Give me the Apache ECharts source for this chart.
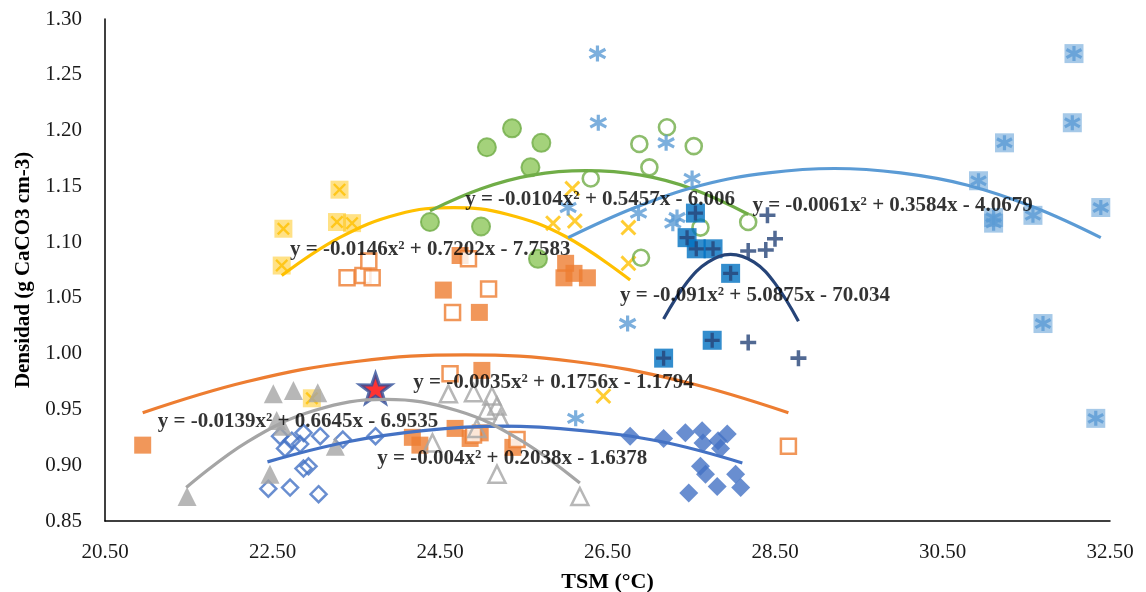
<!DOCTYPE html>
<html>
<head>
<meta charset="utf-8">
<script src="https://cdn.jsdelivr.net/npm/echarts@6/dist/echarts.min.js"></script>
<style>
html,body{margin:0;padding:0;background:#fff;}
#chart{width:1146px;height:592px;}
</style>
</head>
<body>
<div id="chart"></div>
<script>
// ---------- DATA ----------
const xTicks = [20.5, 22.5, 24.5, 26.5, 28.5, 30.5, 32.5];
const yTicks = [0.85, 0.90, 0.95, 1.00, 1.05, 1.10, 1.15, 1.20, 1.25, 1.30];

const orangeFilledX = [20.95, 24.54, 24.97, 24.74, 26.00, 25.98, 26.26, 26.10, 25.00, 24.17, 24.26, 24.68, 24.86, 24.98, 25.37];
const orangeFilledY = [0.918, 1.057, 1.037, 1.088, 1.081, 1.068, 1.068, 1.072, 0.985, 0.925, 0.918, 0.933, 0.924, 0.929, 0.916];

const orangeHollowX = [23.39, 23.58, 23.69, 23.65, 24.84, 25.08, 24.65, 24.62, 25.42, 24.90, 28.66];
const orangeHollowY = [1.068, 1.070, 1.068, 1.083, 1.085, 1.058, 1.037, 0.982, 0.923, 0.927, 0.917];

const yellowBoxX = [22.63, 22.61, 23.30, 23.27, 23.45, 22.97];
const yellowBoxY = [1.112, 1.079, 1.147, 1.118, 1.117, 0.960];

const yellowCrossX = [26.08, 25.85, 26.11, 26.75, 26.75, 26.45];
const yellowCrossY = [1.148, 1.117, 1.119, 1.113, 1.081, 0.962];

const greenFilledX = [25.36, 25.06, 25.71, 25.58, 24.38, 24.99, 25.67];
const greenFilledY = [1.202, 1.185, 1.189, 1.167, 1.118, 1.114, 1.085];

const greenHollowX = [27.21, 26.88, 27.53, 27.00, 26.30, 28.18, 26.90, 27.61];
const greenHollowY = [1.203, 1.188, 1.186, 1.167, 1.157, 1.118, 1.086, 1.113];

const starLightX = [26.38, 26.39, 27.20, 27.51, 26.03, 26.87, 27.33, 27.28, 26.74, 26.12];
const starLightY = [1.269, 1.207, 1.189, 1.157, 1.131, 1.126, 1.122, 1.117, 1.027, 0.942];

const starBoxX = [32.07, 32.05, 31.24, 30.93, 31.11, 31.11, 31.58, 32.39, 31.70, 32.33];
const starBoxY = [1.269, 1.207, 1.189, 1.155, 1.122, 1.117, 1.124, 1.131, 1.027, 0.942];

const plusX = [28.41, 28.50, 28.18, 28.39, 28.18, 28.78];
const plusY = [1.124, 1.103, 1.092, 1.093, 1.010, 0.996];

const plusBoxX = [27.55, 27.45, 27.56, 27.76, 27.97, 27.75, 27.17];
const plusBoxY = [1.126, 1.104, 1.094, 1.094, 1.072, 1.012, 0.996];

const diamondFilledX = [26.77, 27.17, 27.43, 27.63, 27.64, 27.82, 27.93, 27.85, 27.61, 27.67, 28.03, 27.81, 28.09, 27.47];
const diamondFilledY = [0.926, 0.924, 0.929, 0.931, 0.920, 0.922, 0.928, 0.915, 0.899, 0.892, 0.892, 0.881, 0.880, 0.875];

const diamondHollowX = [22.59, 22.73, 22.87, 23.07, 23.34, 22.65, 22.83, 22.45, 22.71, 22.87, 22.93, 23.05, 23.73];
const diamondHollowY = [0.926, 0.922, 0.929, 0.926, 0.923, 0.915, 0.919, 0.879, 0.880, 0.897, 0.899, 0.874, 0.926];

const triFilledX = [22.51, 22.75, 23.04, 22.62, 22.55, 23.25, 22.47, 21.48];
const triFilledY = [0.964, 0.967, 0.965, 0.935, 0.940, 0.917, 0.892, 0.872];

const triHollowX = [24.60, 24.90, 25.12, 25.06, 25.18, 25.22, 24.41, 25.18, 26.17, 24.94];
const triHollowY = [0.964, 0.965, 0.962, 0.949, 0.953, 0.942, 0.920, 0.892, 0.872, 0.933];

const redStarX = [23.73];
const redStarY = [0.969];

// trend lines
const trendOrangeX = [20.95, 22.2, 23.5, 24.8, 26.1, 27.4, 28.66];
const trendOrangeY = [0.947, 0.975, 0.993, 0.999, 0.993, 0.975, 0.947];
const trendYellowX = [22.61, 23.3, 24.0, 24.66, 25.3, 26.0, 26.77];
const trendYellowY = [1.070, 1.104, 1.125, 1.131, 1.125, 1.105, 1.066];
const trendGreenX = [24.38, 25.0, 25.6, 26.24, 26.9, 27.5, 28.18];
const trendGreenY = [1.128, 1.148, 1.160, 1.164, 1.160, 1.148, 1.125];
const trendLightX = [26.03, 26.83, 27.62, 28.42, 29.21, 30.0, 30.8, 31.6, 32.39];
const trendLightY = [1.104, 1.131, 1.151, 1.162, 1.166, 1.162, 1.151, 1.131, 1.104];
const trendNavyX = [27.17, 27.45, 27.7, 27.97, 28.25, 28.5, 28.78];
const trendNavyY = [1.031, 1.064, 1.082, 1.089, 1.082, 1.063, 1.029];
const trendBlueX = [22.44, 23.4, 24.3, 25.25, 26.2, 27.15, 28.11];
const trendBlueY = [0.903, 0.921, 0.931, 0.935, 0.931, 0.921, 0.902];
const trendGrayX = [21.47, 22.2, 23.0, 23.85, 24.7, 25.45, 26.17];
const trendGrayY = [0.880, 0.921, 0.949, 0.959, 0.949, 0.923, 0.884];

const eqTexts = [
  'y = -0.0146x² + 0.7202x - 7.7583',
  'y = -0.0104x² + 0.5457x - 6.006',
  'y = -0.0061x² + 0.3584x - 4.0679',
  'y = -0.091x² + 5.0875x - 70.034',
  'y = -0.0035x² + 0.1756x - 1.1794',
  'y = -0.0139x² + 0.6645x - 6.9535',
  'y = -0.004x² + 0.2038x - 1.6378'
];
const eqAnchorX = [22.71, 24.80, 28.23, 26.65, 24.18, 21.13, 23.75];
const eqAnchorY = [1.093, 1.138, 1.133, 1.052, 0.974, 0.939, 0.906];

const xTitle = 'TSM (°C)';
const yTitle = 'Densidad (g CaCO3 cm-3)';

// ---------- BUILD ----------
const pts = (xs, ys) => xs.map((x, i) => [x, ys[i]]);
const SERIF = '"Liberation Serif", "Times New Roman", serif';

const CROSS = 'path://M0,1.3L1.3,0L5,3.7L8.7,0L10,1.3L6.3,5L10,8.7L8.7,10L5,6.3L1.3,10L0,8.7L3.7,5Z';
const PLUS = 'path://M3.9,0H6.1V3.9H10V6.1H6.1V10H3.9V6.1H0V3.9H3.9Z';
const ASTER = 'path://M5,0L5,10M0.6,2.3L9.4,7.7M0.6,7.7L9.4,2.3';
const STAR = 'path://M50,0L61.8,35.1L97.6,34.5L69.1,56.7L79.4,90.5L50,70L20.6,90.5L30.9,56.7L2.4,34.5L38.2,35.1Z';

function sc(data, symbol, size, itemStyle, z) {
  return { type: 'scatter', data, symbol, symbolSize: size, itemStyle, z: z || 2, silent: true, emphasis: { disabled: true } };
}
function trend(xs, ys, color, width) {
  return { type: 'line', data: pts(xs, ys), smooth: 0.4, showSymbol: false, symbol: 'none',
    lineStyle: { color, width: width || 3.2 }, z: 5, silent: true };
}

const series = [
  sc(pts(orangeFilledX, orangeFilledY), 'rect', 17, { color: '#ED7D31' }),
  sc(pts(orangeHollowX, orangeHollowY), 'rect', 15, { color: '#ffffff', borderColor: '#ED7D31', borderWidth: 2.5 }),
  sc(pts(yellowBoxX, yellowBoxY), 'rect', 18, { color: 'rgba(255,192,0,0.6)' }),
  sc(pts(yellowBoxX, yellowBoxY), CROSS, 13, { color: '#FFC000' }),
  sc(pts(yellowCrossX, yellowCrossY), CROSS, 16, { color: '#FFC000' }),
  sc(pts(greenFilledX, greenFilledY), 'circle', 18, { color: '#8DC75A', borderColor: '#70AD47', borderWidth: 2 }),
  sc(pts(greenHollowX, greenHollowY), 'circle', 16, { color: 'rgba(255,255,255,0)', borderColor: '#70AD47', borderWidth: 2.6 }),
  sc(pts(starLightX, starLightY), ASTER, 16, { color: 'rgba(0,0,0,0)', borderColor: '#5B9BD5', borderWidth: 3.2 }),
  sc(pts(starBoxX, starBoxY), 'rect', 19, { color: 'rgba(91,155,213,0.68)' }),
  sc(pts(starBoxX, starBoxY), ASTER, 15, { color: 'rgba(0,0,0,0)', borderColor: '#5B9BD5', borderWidth: 3.2 }),
  sc(pts(plusX, plusY), PLUS, 16, { color: '#264478' }),
  sc(pts(plusBoxX, plusBoxY), 'rect', 19, { color: '#0070C0' }),
  sc(pts(plusBoxX, plusBoxY), PLUS, 15, { color: '#264478' }),
  sc(pts(diamondFilledX, diamondFilledY), 'diamond', 19, { color: '#4472C4' }),
  sc(pts(diamondHollowX, diamondHollowY), 'diamond', 16, { color: 'rgba(255,255,255,0)', borderColor: '#4472C4', borderWidth: 2.5 }),
  sc(pts(triFilledX, triFilledY), 'triangle', 19, { color: '#A5A5A5' }),
  sc(pts(triHollowX, triHollowY), 'triangle', 17, { color: 'rgba(255,255,255,0)', borderColor: '#A5A5A5', borderWidth: 2.5 }),
  sc(pts(redStarX, redStarY), STAR, [31, 29], { color: '#FF0000', borderColor: '#2F4F9A', borderWidth: 3.2 }, 3),
  trend(trendOrangeX, trendOrangeY, '#ED7D31'),
  trend(trendYellowX, trendYellowY, '#FFC000'),
  trend(trendGreenX, trendGreenY, '#70AD47'),
  trend(trendLightX, trendLightY, '#5B9BD5'),
  trend(trendNavyX, trendNavyY, '#264478'),
  trend(trendBlueX, trendBlueY, '#4472C4'),
  trend(trendGrayX, trendGrayY, '#A5A5A5'),
  {
    type: 'scatter', symbolSize: 0, z: 10, silent: true,
    data: eqTexts.map((t, i) => ({ value: [eqAnchorX[i], eqAnchorY[i]], name: t })),
    label: { show: true, position: 'right', distance: 0, formatter: p => p.name,
      fontFamily: SERIF, fontWeight: 'bold', fontSize: 21, color: '#000' }
  }
];

const chart = echarts.init(document.getElementById('chart'), null, { renderer: 'canvas' });
chart.setOption({
  animation: false,
  backgroundColor: '#ffffff',
  grid: { left: 105, right: 36, top: 19, bottom: 71, containLabel: false, outerBoundsMode: 'none' },
  xAxis: {
    type: 'value', min: xTicks[0], max: xTicks[xTicks.length - 1], interval: 2,
    name: xTitle, nameLocation: 'middle', nameGap: 50,
    nameTextStyle: { fontFamily: SERIF, fontWeight: 'bold', fontSize: 22, color: '#000' },
    axisLine: { show: true, lineStyle: { color: '#000', width: 1.5 } },
    axisTick: { show: false }, splitLine: { show: false },
    axisLabel: { formatter: v => v.toFixed(2), fontFamily: SERIF, fontSize: 21, color: '#1a1a1a', margin: 21 }
  },
  yAxis: {
    type: 'value', min: yTicks[0], max: yTicks[yTicks.length - 1], interval: 0.05,
    name: yTitle, nameLocation: 'middle', nameGap: 59, nameRotate: 90,
    nameTextStyle: { fontFamily: SERIF, fontWeight: 'bold', fontSize: 21, color: '#000' },
    axisLine: { show: true, onZero: false, lineStyle: { color: '#000', width: 1.5 } },
    axisTick: { show: false }, splitLine: { show: false },
    axisLabel: { formatter: v => v.toFixed(2), fontFamily: SERIF, fontSize: 21, color: '#1a1a1a', margin: 23 }
  },
  series
});
</script>
</body>
</html>
